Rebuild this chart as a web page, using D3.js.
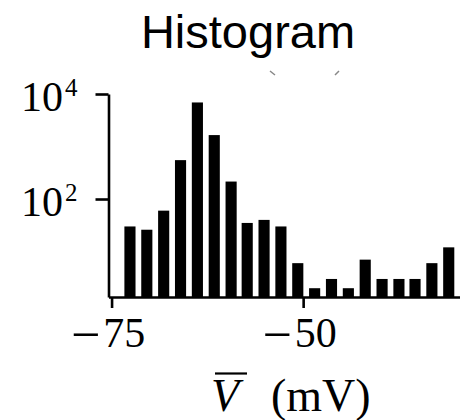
<!DOCTYPE html>
<html>
<head>
<meta charset="utf-8">
<script src="https://cdn.jsdelivr.net/npm/d3@7"></script>
<style>
  body { margin: 0; background: #fff; }
  svg { display: block; }
</style>
</head>
<body>
<script>
const width = 460, height = 420

// bin centres (mV) and counts
const binCenters = [-72.6, -70.4, -68.2, -66.0, -63.8, -61.6, -59.4, -57.3, -55.1, -52.9,
                    -50.7, -48.5, -46.3, -44.1, -41.9, -39.7, -37.5, -35.4, -33.2, -31.0]
const counts = [30, 26, 60, 550, 6900, 1650, 215, 35, 40, 30,
                6, 2, 3, 2, 7, 3, 3, 3, 6, 12]
const xTicks = [-75, -50]
const yTicks = [1e2, 1e4]
const yTickLabels = ['2', '4'] // exponents

const svg = d3.select('body').append('svg')
    .attr('width', width)
    .attr('height', height)

const xScale = d3.scaleLinear()
    .domain([-75.4, -29.4])
    .range([108.5, 461])

const yScale = d3.scaleLog()
    .domain([1.36, 1e4])
    .range([297, 94])

// title
svg.append('text')
    .attr('x', 248)
    .attr('y', 48)
    .attr('text-anchor', 'middle')
    .style('font-family', 'Liberation Sans, Arial, sans-serif')
    .style('font-size', '47px')
    .text('Histogram')

// little cut-off marks left over at the top
svg.append('path')
    .attr('d', 'M270,71 L275,75 M339,71 L335,75')
    .attr('stroke', '#888')
    .attr('stroke-width', 1.5)
    .attr('fill', 'none')

// bars
const step = xScale(binCenters[1]) - xScale(binCenters[0])
const barW = step * 0.66
svg.selectAll('.bar').data(binCenters)
    .enter()
    .append('rect')
    .attr('class', 'bar')
    .attr('x', d => xScale(d) - barW / 2)
    .attr('width', barW)
    .attr('y', (d, i) => yScale(counts[i]))
    .attr('height', (d, i) => yScale.range()[0] - yScale(counts[i]))
    .attr('fill', '#000')

// x axis
const xAxis = svg.append('g')
    .attr('transform', 'translate(0,' + yScale.range()[0] + ')')
    .call(d3.axisBottom(xScale).tickValues(xTicks).tickSize(11).tickSizeOuter(0).tickFormat(''))
xAxis.selectAll('path, line').attr('stroke', '#000').attr('stroke-width', 2.6)

const xLab = xAxis.selectAll('.tick').append('text')
    .attr('y', 50)
    .attr('dx', -4)
    .attr('fill', '#000')
    .attr('text-anchor', 'middle')
    .style('font-family', 'Liberation Serif, Times New Roman, serif')
    .style('font-size', '42px')
xLab.append('tspan')
    .attr('dy', 5)
    .style('font-size', '52px')
    .text('\u2212')
xLab.append('tspan')
    .attr('dy', -5)
    .attr('dx', 3)
    .text(d => Math.abs(d))

// y axis
const yAxis = svg.append('g')
    .attr('transform', 'translate(' + xScale.range()[0] + ',0)')
    .call(d3.axisLeft(yScale).tickValues(yTicks).tickSize(13).tickSizeOuter(0).tickFormat(''))
yAxis.selectAll('path, line').attr('stroke', '#000').attr('stroke-width', 2.6)

const yLab = yAxis.selectAll('.tick').append('text')
    .attr('x', -31)
    .attr('y', 16)
    .attr('fill', '#000')
    .attr('text-anchor', 'end')
    .style('font-family', 'Liberation Serif, Times New Roman, serif')
    .style('font-size', '42px')
yLab.append('tspan').text('10')
yLab.append('tspan')
    .attr('dx', 2)
    .attr('dy', -15)
    .style('font-size', '25px')
    .text((d, i) => yTickLabels[i])

// x label: V-bar (mV)
const xl = svg.append('text')
    .attr('y', 411)
    .style('font-family', 'Liberation Serif, Times New Roman, serif')
    .style('font-size', '46px')
xl.append('tspan')
    .attr('x', 211)
    .style('font-style', 'italic')
    .text('V')
xl.append('tspan')
    .attr('x', 271)
    .text('(mV)')
svg.append('line')
    .attr('x1', 215).attr('x2', 247)
    .attr('y1', 373.5).attr('y2', 373.5)
    .attr('stroke', '#000')
    .attr('stroke-width', 2.2)
</script>
</body>
</html>
